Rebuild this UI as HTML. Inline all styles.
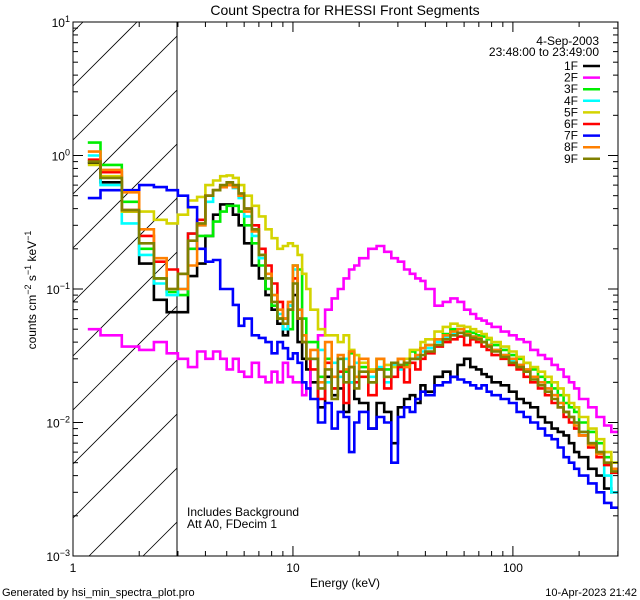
<!DOCTYPE html>
<html><head><meta charset="utf-8"><style>
html,body{margin:0;padding:0;background:#fff;width:640px;height:600px;overflow:hidden;}
svg{display:block;font-family:"Liberation Sans",sans-serif;overflow:hidden;}
</style></head><body>
<svg id="chart" width="640" height="600" viewBox="0 0 640 600" xmlns="http://www.w3.org/2000/svg">
<rect x="0" y="0" width="640" height="600" fill="#fff"/>
<text x="345" y="15" font-size="14" text-anchor="middle">Count Spectra for RHESSI Front Segments</text>
<defs><clipPath id="hclip"><rect x="73" y="22" width="104" height="534"/></clipPath>
<clipPath id="pclip"><rect x="73" y="22" width="545" height="534"/></clipPath></defs>
<g id="hatch" clip-path="url(#hclip)"></g>
<line x1="177" y1="22" x2="177" y2="556" stroke="#000" stroke-width="1"/>
<g id="series" clip-path="url(#pclip)"></g>
<rect x="73" y="22" width="545" height="534" fill="none" stroke="#000" stroke-width="1"/>
<g id="axes"></g>
<text x="345" y="587" font-size="12" text-anchor="middle">Energy (keV)</text>
<text transform="translate(36,290) rotate(-90)" font-size="12" text-anchor="middle">counts cm<tspan dy="-5" font-size="9">−2</tspan><tspan dy="5"> s</tspan><tspan dy="-5" font-size="9">−1</tspan><tspan dy="5"> keV</tspan><tspan dy="-5" font-size="9">−1</tspan></text>
<text x="187" y="516" font-size="12">Includes Background</text>
<text x="187" y="528" font-size="12">Att A0, FDecim 1</text>
<text x="599" y="45" font-size="12" text-anchor="end">4-Sep-2003</text>
<text x="599" y="56" font-size="12" text-anchor="end">23:48:00 to 23:49:00</text>
<g id="legend"></g>
<text x="2" y="596" font-size="11">Generated by hsi_min_spectra_plot.pro</text>
<text x="637" y="596" font-size="11" text-anchor="end">10-Apr-2023 21:42</text>
</svg>
<script>
const energyEdges=[1.167,1.333,1.667,2,2.333,2.667,3,3.333,3.667,4,4.333,4.667,5,5.333,5.667,6,6.5,7,7.5,8,8.5,9,9.5,10,10.5,11,11.5,12,13,14,15,16,17,18,19,20,22,24,26,28,30,32,34,36,38,40,44,48,52,56,60,64,68,72,76,80,88,96,104,112,120,130,140,150,160,170,180,190,200,220,240,260,280,300];
const seriesNames=["1F","2F","3F","4F","5F","6F","7F","8F","9F"];
const seriesColors=["#000000","#ff00ff","#00ee00","#00ffff","#d4d400","#ff0000","#0000ff","#ff8000","#808000"];
const s1F=[0.88,0.63,0.38,0.155,0.083,0.067,0.067,0.125,0.155,0.25,0.36,0.43,0.43,0.36,0.3,0.22,0.15,0.12,0.09,0.07,0.055,0.045,0.075,0.09,0.04,0.03,0.025,
0.02,0.013,0.022,0.016,0.018,0.012,0.02,0.015,0.014,0.009,0.014,0.012,0.007,0.013,0.015,0.016,0.014,0.019,0.017,0.022,0.024,0.022,0.027,0.03,0.026,0.025,0.023,0.022,0.02,0.019,0.017,0.015,0.014,0.013,0.011,0.01,0.009,0.0085,0.008,0.007,0.006,0.0055,0.0045,0.004,0.0032,0.003];
const s2F=[0.05,0.045,0.037,0.035,0.04,0.033,0.03,0.026,0.034,0.03,0.034,0.03,0.025,0.03,0.024,0.022,0.028,0.022,0.02,0.024,0.02,0.028,0.022,0.02,0.02,0.016,0.018,
0.03,0.045,0.07,0.085,0.1,0.12,0.14,0.15,0.17,0.2,0.21,0.19,0.17,0.16,0.14,0.13,0.12,0.115,0.1,0.075,0.08,0.085,0.08,0.07,0.065,0.06,0.058,0.055,0.052,0.048,0.045,0.042,0.04,0.035,0.032,0.03,0.027,0.025,0.022,0.02,0.018,0.015,0.013,0.011,0.0095,0.0085];
const s3F=[1.25,0.85,0.45,0.2,0.12,0.095,0.09,0.2,0.25,0.25,0.32,0.38,0.42,0.42,0.38,0.3,0.22,0.15,0.1,0.075,0.06,0.05,0.05,0.15,0.14,0.06,0.04,
0.04,0.022,0.03,0.018,0.03,0.024,0.033,0.022,0.026,0.02,0.03,0.025,0.028,0.03,0.027,0.034,0.03,0.036,0.038,0.042,0.046,0.05,0.05,0.048,0.047,0.045,0.044,0.042,0.038,0.035,0.032,0.03,0.028,0.025,0.022,0.02,0.018,0.016,0.014,0.013,0.012,0.01,0.0085,0.007,0.0055,0.005];
const s4F=[1.0,0.6,0.31,0.18,0.11,0.09,0.1,0.26,0.3,0.45,0.55,0.58,0.6,0.57,0.48,0.35,0.25,0.17,0.12,0.09,0.065,0.05,0.075,0.14,0.07,0.045,0.03,
0.03,0.035,0.02,0.028,0.022,0.03,0.02,0.028,0.024,0.022,0.026,0.02,0.027,0.025,0.028,0.03,0.031,0.034,0.036,0.04,0.044,0.046,0.047,0.045,0.044,0.042,0.04,0.038,0.035,0.032,0.029,0.027,0.025,0.022,0.02,0.018,0.016,0.014,0.012,0.011,0.01,0.0085,0.007,0.006,0.004,0.003];
const s5F=[0.85,0.7,0.38,0.38,0.33,0.31,0.36,0.46,0.49,0.6,0.65,0.7,0.71,0.68,0.6,0.5,0.42,0.35,0.28,0.24,0.2,0.21,0.22,0.21,0.18,0.13,0.1,
0.07,0.05,0.045,0.045,0.04,0.045,0.035,0.032,0.028,0.025,0.03,0.027,0.026,0.03,0.03,0.035,0.035,0.04,0.042,0.048,0.052,0.055,0.053,0.052,0.05,0.048,0.046,0.043,0.04,0.037,0.034,0.031,0.028,0.026,0.024,0.022,0.02,0.018,0.016,0.014,0.013,0.011,0.009,0.0075,0.006,0.005];
const s6F=[0.93,0.75,0.39,0.25,0.16,0.14,0.13,0.26,0.33,0.5,0.55,0.58,0.6,0.58,0.5,0.4,0.3,0.2,0.15,0.11,0.08,0.06,0.07,0.12,0.06,0.04,0.03,
0.025,0.015,0.028,0.018,0.024,0.014,0.026,0.02,0.022,0.016,0.025,0.018,0.022,0.026,0.02,0.028,0.025,0.03,0.033,0.037,0.04,0.042,0.044,0.038,0.042,0.04,0.037,0.035,0.032,0.03,0.027,0.025,0.022,0.02,0.018,0.016,0.014,0.013,0.011,0.01,0.009,0.008,0.0065,0.0055,0.0048,0.0042];
const s7F=[0.48,0.55,0.55,0.6,0.58,0.55,0.5,0.41,0.2,0.16,0.165,0.1,0.1,0.076,0.053,0.06,0.045,0.043,0.04,0.033,0.04,0.036,0.03,0.033,0.028,0.02,0.018,
0.015,0.01,0.014,0.009,0.012,0.011,0.006,0.01,0.012,0.009,0.011,0.01,0.005,0.011,0.013,0.012,0.015,0.017,0.016,0.019,0.02,0.022,0.021,0.02,0.019,0.018,0.019,0.017,0.016,0.015,0.014,0.012,0.011,0.01,0.009,0.008,0.0075,0.0065,0.0055,0.005,0.0045,0.004,0.0035,0.003,0.0025,0.0023];
const s8F=[1.07,0.78,0.53,0.28,0.17,0.1,0.1,0.15,0.3,0.5,0.55,0.58,0.6,0.58,0.5,0.38,0.27,0.18,0.13,0.09,0.07,0.06,0.08,0.15,0.07,0.045,0.03,
0.035,0.02,0.04,0.022,0.032,0.025,0.034,0.022,0.03,0.024,0.03,0.022,0.028,0.03,0.026,0.03,0.032,0.036,0.038,0.042,0.045,0.048,0.05,0.046,0.044,0.043,0.04,0.038,0.035,0.032,0.03,0.027,0.025,0.022,0.02,0.018,0.016,0.014,0.012,0.011,0.0095,0.008,0.0068,0.0058,0.005,0.0045];
const s9F=[0.9,0.68,0.39,0.22,0.12,0.1,0.13,0.23,0.31,0.5,0.55,0.6,0.63,0.6,0.52,0.4,0.28,0.18,0.12,0.08,0.06,0.055,0.07,0.11,0.06,0.04,0.03,
0.03,0.018,0.025,0.015,0.03,0.02,0.026,0.018,0.024,0.02,0.025,0.022,0.028,0.027,0.028,0.03,0.03,0.032,0.034,0.038,0.042,0.045,0.047,0.045,0.043,0.042,0.04,0.037,0.034,0.031,0.028,0.026,0.024,0.021,0.019,0.017,0.015,0.013,0.012,0.011,0.01,0.0085,0.007,0.006,0.005,0.0043];
const seriesValues=[s1F,s2F,s3F,s4F,s5F,s6F,s7F,s8F,s9F];
const xTickMajor=[1,10,100];
const yTickMajorExp=[-3,-2,-1,0,1];

const NS="http://www.w3.org/2000/svg";
const X0=73,X1=618,Y0=22,Y1=556;
const xMinLog=0,xMaxLog=Math.log10(300.5);
const yMinLog=-3,yMaxLog=1;
function xs(e){return X0+(Math.log10(e)-xMinLog)/(xMaxLog-xMinLog)*(X1-X0);}
function ys(v){return Y1-(Math.log10(v)-yMinLog)/(yMaxLog-yMinLog)*(Y1-Y0);}
function mk(tag,attrs,parent){const el=document.createElementNS(NS,tag);for(const k in attrs)el.setAttribute(k,attrs[k]);parent.appendChild(el);return el;}

// hatch (segments computed to stay inside the region)
const hatch=document.getElementById('hatch');
for(let c=-540;c<700;c+=54){
  // line: y = 86 + c - (x - X0)
  let xa=X0, ya=86+c, xb=177, yb=86+c-(177-X0);
  if(ya>Y1){xa=X0+(ya-Y1);ya=Y1;}
  if(yb<Y0){xb=X0+(86+c-Y0);yb=Y0;}
  if(xa>=xb)continue;
  const l=mk('line',{x1:xa,y1:ya,x2:xb,y2:yb,stroke:'#000','stroke-width':0.8},hatch);
  
  
}

// series
const sg=document.getElementById('series');
seriesValues.forEach((vals,si)=>{
  const n=Math.min(vals.length,energyEdges.length-1);
  let d='';
  for(let i=0;i<n;i++){
    const xa=xs(energyEdges[i]).toFixed(1),xb=xs(energyEdges[i+1]).toFixed(1),y=ys(vals[i]).toFixed(1);
    d+=(i===0?'M':'L')+xa+','+y+'L'+xb+','+y;
  }
  const p=mk('path',{d:d,fill:'none',stroke:seriesColors[si],'stroke-width':2.6,'stroke-linejoin':'miter'},sg);
  
  
});

// axes ticks
const ax=document.getElementById('axes');
xTickMajor.forEach(m=>{
  for(let k=1;k<=9;k++){
    const e=m*k; if(e>300)break;
    const x=xs(e), len=(k===1)?10:5;
    const t1=mk('line',{x1:x,y1:Y1,x2:x,y2:Y1-len,stroke:'#000','stroke-width':1},ax);
    
    
    const t2=mk('line',{x1:x,y1:Y0,x2:x,y2:Y0+len,stroke:'#000','stroke-width':1},ax);
    
    
  }
  const lb=mk('text',{x:xs(m),y:Y1+16,'font-size':12,'text-anchor':'middle'},ax);
  lb.textContent=String(m);
  
  
});
yTickMajorExp.forEach(ex=>{
  for(let k=1;k<=9;k++){
    const v=k*Math.pow(10,ex); if(v>10.01)break;
    const y=ys(v), len=(k===1)?10:5;
    const t1=mk('line',{x1:X0,y1:y,x2:X0+len,y2:y,stroke:'#000','stroke-width':1},ax);
    
    
    const t2=mk('line',{x1:X1,y1:y,x2:X1-len,y2:y,stroke:'#000','stroke-width':1},ax);
    
    
  }
  const lb=mk('text',{x:X0-3,y:ys(Math.pow(10,ex))+5,'font-size':12,'text-anchor':'end'},ax);
  
  
  const t=document.createElementNS(NS,'tspan');t.textContent='10';lb.appendChild(t);
  const s=document.createElementNS(NS,'tspan');s.setAttribute('dy','-5');s.setAttribute('font-size','9');
  s.textContent=(ex<0?'−':'')+Math.abs(ex);lb.appendChild(s);
});

// legend
const lg=document.getElementById('legend');
seriesNames.forEach((nm,i)=>{
  const y=66+i*11.6;
  const t=mk('text',{x:578,y:y+4,'font-size':12,'text-anchor':'end'},lg);
  t.textContent=nm;
  
  
  const l=mk('line',{x1:583,y1:y,x2:600,y2:y,stroke:seriesColors[i],'stroke-width':2.5},lg);
  
  
});
</script>
</body></html>
